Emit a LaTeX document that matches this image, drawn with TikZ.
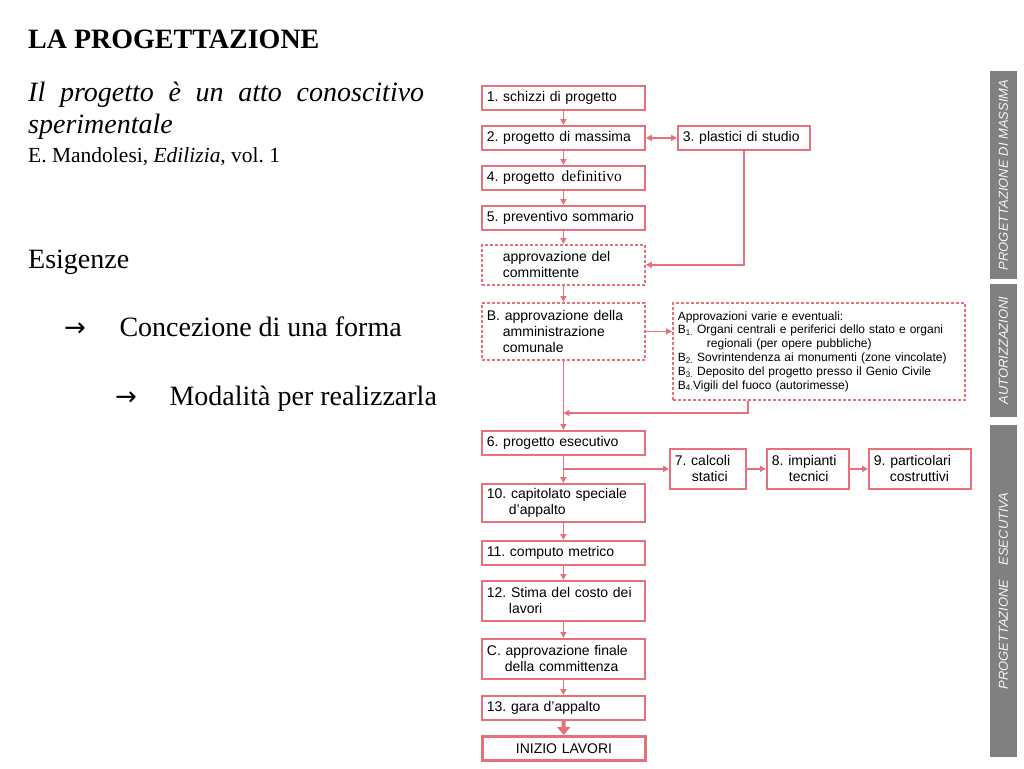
\documentclass[tikz,border=0pt]{standalone}
\usepackage{fontspec}
\setmainfont{Liberation Serif}
\setsansfont{Liberation Sans}
\newfontfamily\arrowfont{DejaVu Sans}
\usetikzlibrary{arrows.meta}

\definecolor{boxred}{RGB}{232,112,122}
\definecolor{bargray}{RGB}{128,128,128}
\definecolor{barwhite}{RGB}{245,245,245}

\begin{document}
\frenchspacing
\begin{tikzpicture}[x=1pt, y=-1pt,
  stepbox/.style={draw=boxred, line width=1.8pt, anchor=north west, inner xsep=5pt, inner ysep=0pt,
    align=left, font=\sffamily\fontsize{14}{16}\selectfont},
  mainbox/.style={stepbox, text width=153pt, minimum height=#1},
  mainbox/.default=24pt,
  waitbox/.style={mainbox=#1, dash pattern=on 3pt off 2pt},
  link/.style={draw=boxred, line width=1.7pt, -{Triangle[length=6pt, width=6pt]}},
  twoway/.style={link, {Triangle[length=6pt, width=6pt]}-{Triangle[length=6pt, width=6pt]}},
  sidebar/.style={fill=bargray, rotate=90, minimum height=27pt, inner sep=0pt, text=barwhite,
    font=\sffamily\itshape\fontsize{13}{14}\selectfont},
  lefttext/.style={anchor=base west, inner sep=0pt}]
\useasboundingbox (0,0) rectangle (1024,768);

% left column
\node[lefttext, font=\bfseries\fontsize{28}{32}\selectfont] (title) at (28,48.5) {LA PROGETTAZIONE};
\node[lefttext, align=left, font=\itshape\fontsize{28}{31.5}\selectfont] (motto) at (28,133)
  {\makebox[396pt][s]{Il progetto è un atto conoscitivo}\\sperimentale};
\node[lefttext, font=\fontsize{21.5}{24}\selectfont] (source) at (28,162.7) {E. Mandolesi, \textit{Edilizia}, vol. 1};
\node[lefttext, font=\fontsize{28}{32}\selectfont] (needs) at (28,268.3) {Esigenze};
\node[lefttext, font=\arrowfont\fontsize{26}{30}\selectfont] (arA) at (64,336.7) {→};
\node[lefttext, font=\fontsize{28}{32}\selectfont] (form) at (119.3,336.7) {Concezione di una forma};
\node[lefttext, font=\arrowfont\fontsize{26}{30}\selectfont] (arB) at (115,405) {→};
\node[lefttext, font=\fontsize{28}{32}\selectfont] (means) at (169.3,405) {Modalità per realizzarla};

% flow chart
\node[mainbox] (s1) at (481,85) {1. schizzi di progetto};
\node[mainbox] (s2) at (481,125) {2. progetto di massima};
\node[stepbox, text width=122pt, minimum height=24pt] (s3) at (677,125) {3. plastici di studio};
\node[mainbox] (s4) at (481,165) {4. progetto\hspace{7pt}{\rmfamily\fontsize{15.5}{16}\selectfont definitivo}};
\node[mainbox] (s5) at (481,205) {5. preventivo sommario};
\node[waitbox=40pt] (sA) at (481,244) {\hspace*{16pt}approvazione del\\\hspace*{16pt}committente};
\node[waitbox=57pt] (sB) at (481,302) {B. approvazione della\\\hspace*{16pt}amministrazione\\\hspace*{16pt}comunale};
\node[stepbox, dash pattern=on 3pt off 2pt, text width=282pt, minimum height=97pt,
  font=\sffamily\fontsize{12}{13.8}\selectfont] (sBv) at (672,302)
  {Approvazioni varie e eventuali:\\
   B\textsubscript{1.} Organi centrali e periferici dello stato e organi\\
   \hspace*{29pt}regionali (per opere pubbliche)\\
   B\textsubscript{2.} Sovrintendenza ai monumenti (zone vincolate)\\
   B\textsubscript{3.} Deposito del progetto presso il Genio Civile\\
   B\textsubscript{4.}Vigili del fuoco (autorimesse)};
\node[mainbox] (s6) at (481,430) {6. progetto esecutivo};
\node[stepbox, text width=66pt, minimum height=40pt] (s7) at (669,448) {7. calcoli\\\hspace*{17pt}statici};
\node[stepbox, text width=72pt, minimum height=40pt] (s8) at (766,448) {8. impianti\\\hspace*{17pt}tecnici};
\node[stepbox, text width=92pt, minimum height=40pt] (s9) at (868,448) {9. particolari\\\hspace*{16pt}costruttivi};
\node[mainbox=38pt] (s10) at (481,483) {10. capitolato speciale\\\hspace*{22pt}d’appalto};
\node[mainbox] (s11) at (481,540) {11. computo metrico};
\node[mainbox=40pt] (s12) at (481,580) {12. Stima del costo dei\\\hspace*{22pt}lavori};
\node[mainbox=40pt] (sC) at (481,638) {C. approvazione finale\\\hspace*{18pt}della committenza};
\node[mainbox] (s13) at (481,695) {13. gara d’appalto};
\node[mainbox, line width=3pt, align=center] (start) at (481,735) {INIZIO LAVORI};

\foreach \a/\b in {s1/s2, s2/s4, s4/s5, s5/sA, sA/sB, sB/s6, s6/s10, s10/s11, s11/s12, s12/sC, sC/s13}
  \draw[link] (\a) -- (\b);
\draw[twoway] (s2) -- (s3);
\draw[link] (s3) |- (sA);
\draw[link] (sB) -- (sB -| sBv.west);
\coordinate (join) at (sB.south |- 0,413);
\draw[link] ([xshift=76pt]sBv.south west) |- (join);
\coordinate (fork) at (s6.south |- s7.west);
\draw[link] (fork) -- (s7);
\draw[link] (s7) -- (s8);
\draw[link] (s8) -- (s9);
\draw[draw=boxred, line width=4pt, -{Triangle[length=8pt, width=13pt]}] (s13) -- (start);

% phase bars
\node[sidebar, minimum width=208pt] (barA) at (1003.5,175) {PROGETTAZIONE DI MASSIMA};
\node[sidebar, minimum width=133pt] (barB) at (1003.5,350.5) {AUTORIZZAZIONI};
\node[sidebar, minimum width=332pt] (barC) at (1003.5,591) {PROGETTAZIONE\hspace{14pt}ESECUTIVA};
\end{tikzpicture}
\end{document}
